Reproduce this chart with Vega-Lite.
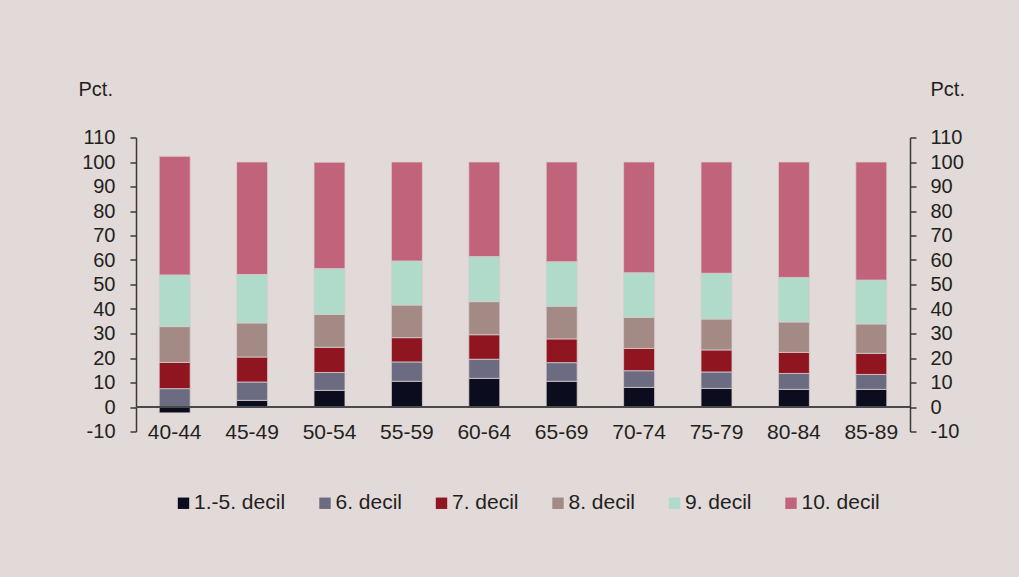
{
  "$schema": "https://vega.github.io/schema/vega-lite/v6.json",
  "autosize": "none",
  "width": 774,
  "height": 294,
  "padding": {"left": 136, "top": 137.5, "right": 109, "bottom": 145.5},
  "background": "#e2dad9",
  "config": {
    "font": "Liberation Sans",
    "view": {"stroke": null},
    "axis": {"labelFont": "Liberation Sans", "titleFont": "Liberation Sans", "labelColor": "#231f20", "titleColor": "#231f20", "grid": false}
  },
  "data": {"values": [
    {"a":"40-44","d":"1.-5. decil","v":-2.4,"r":1},{"a":"40-44","d":"6. decil","v":7.5,"r":2},{"a":"40-44","d":"7. decil","v":10.7,"r":3},{"a":"40-44","d":"8. decil","v":14.6,"r":4},{"a":"40-44","d":"9. decil","v":21.1,"r":5},{"a":"40-44","d":"10. decil","v":48.4,"r":6},
    {"a":"45-49","d":"1.-5. decil","v":2.7,"r":1},{"a":"45-49","d":"6. decil","v":7.5,"r":2},{"a":"45-49","d":"7. decil","v":10.2,"r":3},{"a":"45-49","d":"8. decil","v":13.9,"r":4},{"a":"45-49","d":"9. decil","v":19.8,"r":5},{"a":"45-49","d":"10. decil","v":45.9,"r":6},
    {"a":"50-54","d":"1.-5. decil","v":6.8,"r":1},{"a":"50-54","d":"6. decil","v":7.3,"r":2},{"a":"50-54","d":"7. decil","v":10.3,"r":3},{"a":"50-54","d":"8. decil","v":13.4,"r":4},{"a":"50-54","d":"9. decil","v":18.7,"r":5},{"a":"50-54","d":"10. decil","v":43.4,"r":6},
    {"a":"55-59","d":"1.-5. decil","v":10.5,"r":1},{"a":"55-59","d":"6. decil","v":7.9,"r":2},{"a":"55-59","d":"7. decil","v":9.9,"r":3},{"a":"55-59","d":"8. decil","v":13.3,"r":4},{"a":"55-59","d":"9. decil","v":18.0,"r":5},{"a":"55-59","d":"10. decil","v":40.4,"r":6},
    {"a":"60-64","d":"1.-5. decil","v":11.7,"r":1},{"a":"60-64","d":"6. decil","v":7.8,"r":2},{"a":"60-64","d":"7. decil","v":10.0,"r":3},{"a":"60-64","d":"8. decil","v":13.5,"r":4},{"a":"60-64","d":"9. decil","v":18.4,"r":5},{"a":"60-64","d":"10. decil","v":38.6,"r":6},
    {"a":"65-69","d":"1.-5. decil","v":10.5,"r":1},{"a":"65-69","d":"6. decil","v":7.6,"r":2},{"a":"65-69","d":"7. decil","v":9.7,"r":3},{"a":"65-69","d":"8. decil","v":13.3,"r":4},{"a":"65-69","d":"9. decil","v":18.2,"r":5},{"a":"65-69","d":"10. decil","v":40.7,"r":6},
    {"a":"70-74","d":"1.-5. decil","v":8.0,"r":1},{"a":"70-74","d":"6. decil","v":6.8,"r":2},{"a":"70-74","d":"7. decil","v":9.1,"r":3},{"a":"70-74","d":"8. decil","v":12.7,"r":4},{"a":"70-74","d":"9. decil","v":18.2,"r":5},{"a":"70-74","d":"10. decil","v":45.2,"r":6},
    {"a":"75-79","d":"1.-5. decil","v":7.6,"r":1},{"a":"75-79","d":"6. decil","v":6.7,"r":2},{"a":"75-79","d":"7. decil","v":9.0,"r":3},{"a":"75-79","d":"8. decil","v":12.6,"r":4},{"a":"75-79","d":"9. decil","v":18.7,"r":5},{"a":"75-79","d":"10. decil","v":45.4,"r":6},
    {"a":"80-84","d":"1.-5. decil","v":7.2,"r":1},{"a":"80-84","d":"6. decil","v":6.5,"r":2},{"a":"80-84","d":"7. decil","v":8.6,"r":3},{"a":"80-84","d":"8. decil","v":12.4,"r":4},{"a":"80-84","d":"9. decil","v":18.2,"r":5},{"a":"80-84","d":"10. decil","v":47.1,"r":6},
    {"a":"85-89","d":"1.-5. decil","v":7.2,"r":1},{"a":"85-89","d":"6. decil","v":6.1,"r":2},{"a":"85-89","d":"7. decil","v":8.6,"r":3},{"a":"85-89","d":"8. decil","v":12.0,"r":4},{"a":"85-89","d":"9. decil","v":17.9,"r":5},{"a":"85-89","d":"10. decil","v":48.2,"r":6}
  ]},
  "resolve": {"axis": {"y": "independent"}},
  "layer": [
    {
      "mark": {"type": "bar", "stroke": "#d8cccc", "strokeWidth": 0.8},
      "encoding": {
        "x": {
          "field": "a", "type": "nominal", "sort": null,
          "scale": {"paddingInner": 0.6, "paddingOuter": 0.3},
          "axis": {"title": null, "domain": false, "ticks": false, "tickSize": 0, "labelAngle": 0, "labelFontSize": 21, "labelPadding": 1, "labelBaseline": "middle"}
        },
        "y": {
          "field": "v", "type": "quantitative", "stack": "zero",
          "scale": {"domain": [-10, 110], "nice": false, "zero": false},
          "axis": {
            "orient": "left", "title": "Pct.", "titleAngle": 0, "titleAlign": "left", "titleBaseline": "alphabetic",
            "titleX": -58, "titleY": -42.5, "titleFontSize": 20, "titleFontWeight": "normal",
            "values": [-10, 0, 10, 20, 30, 40, 50, 60, 70, 80, 90, 100, 110],
            "labelExpr": "'' + datum.value",
            "tickSize": 6, "labelPadding": 15, "labelFontSize": 20,
            "domainColor": "#3a3a3a", "tickColor": "#3a3a3a", "domainWidth": 1.5, "tickWidth": 1.5
          }
        },
        "color": {
          "field": "d", "type": "nominal",
          "scale": {
            "domain": ["1.-5. decil", "6. decil", "7. decil", "8. decil", "9. decil", "10. decil"],
            "range": ["#0b0c1e", "#6b6b82", "#8f1520", "#a38a84", "#b0dac9", "#c1647b"]
          },
          "legend": {
            "title": null, "orient": "none", "direction": "horizontal", "legendX": 37, "legendY": 355,
            "symbolType": "square", "symbolSize": 130, "symbolStrokeWidth": 0, "labelOffset": 0,
            "labelFontSize": 21, "labelColor": "#231f20", "columnPadding": 28.5, "padding": 0, "labelFont": "Liberation Sans"
          }
        },
        "order": {"field": "r", "type": "quantitative", "sort": "ascending"}
      }
    },
    {
      "mark": {"type": "rule", "color": "#4a4a4a", "strokeWidth": 1.5},
      "encoding": {
        "y": {
          "datum": 0, "type": "quantitative",
          "axis": {
            "orient": "right", "title": "Pct.", "titleAngle": 0, "titleAlign": "left", "titleBaseline": "alphabetic",
            "titleX": 20, "titleY": -42.5, "titleFontSize": 20, "titleFontWeight": "normal",
            "values": [-10, 0, 10, 20, 30, 40, 50, 60, 70, 80, 90, 100, 110],
            "labelExpr": "'' + datum.value",
            "tickSize": 6, "labelPadding": 14, "labelFontSize": 20,
            "domainColor": "#3a3a3a", "tickColor": "#3a3a3a", "domainWidth": 1.5, "tickWidth": 1.5
          }
        }
      }
    }
  ]
}
